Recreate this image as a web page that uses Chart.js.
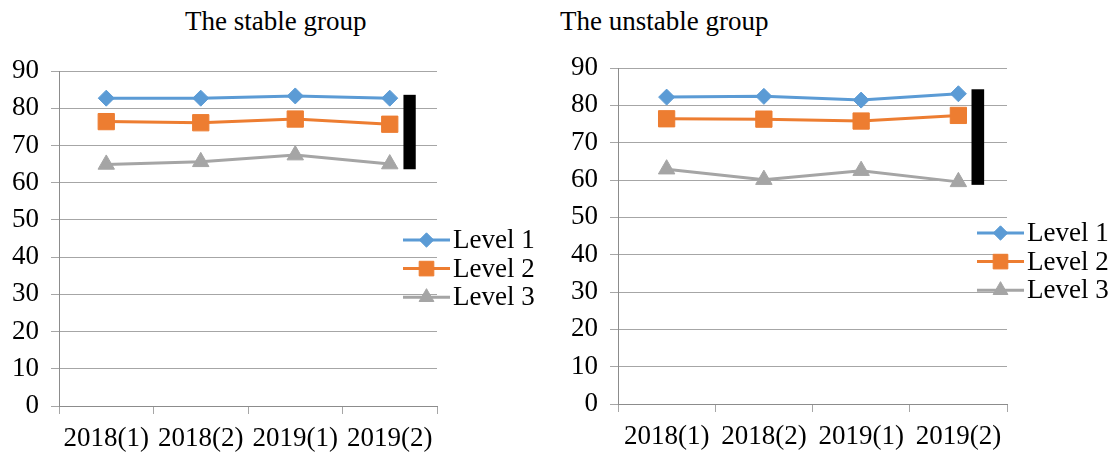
<!DOCTYPE html>
<html>
<head>
<meta charset="utf-8">
<script src="https://cdn.jsdelivr.net/npm/chart.js@4.4.0/dist/chart.umd.min.js"></script>
<style>
  body { margin: 0; background: #fff; width: 1115px; height: 452px; position: relative; overflow: hidden; font-family: "Liberation Serif", "Times New Roman", serif; }
  .title { position: absolute; top: 6px; font-size: 27px; line-height: 31px; color: #000; white-space: nowrap; }
  .box { position: absolute; top: 0; height: 452px; }
</style>
</head>
<body>
<div class="title" style="left:185px">The stable group</div>
<div class="title" style="left:560px">The unstable group</div>
<div class="box" style="left:0;width:555px"><canvas id="stable" width="555" height="452"></canvas></div>
<div class="box" style="left:555px;width:560px"><canvas id="unstable" width="560" height="452"></canvas></div>
<script>
const categories = ["2018(1)", "2018(2)", "2019(1)", "2019(2)"];
const seriesNames = ["Level 1", "Level 2", "Level 3"];

const stableLevel1 = [82.7, 82.7, 83.3, 82.7];
const stableLevel2 = [76.4, 76.1, 77.1, 75.7];
const stableLevel3 = [64.9, 65.6, 67.4, 65.0];
const stableRange = [63.6, 83.6];

const unstableLevel1 = [82.2, 82.4, 81.4, 83.1];
const unstableLevel2 = [76.4, 76.3, 75.8, 77.3];
const unstableLevel3 = [62.9, 60.1, 62.5, 59.5];
const unstableRange = [58.7, 84.3];

const yTicks = { min: 0, max: 90, step: 10 };

const family = '"Liberation Serif", "Times New Roman", serif';
const gridColor = "#a6a6a6";
const axisColor = "#8c8c8c";
const colors = ["#5b9bd5", "#ed7d31", "#a5a5a5"];
const markers = [["rectRot", 8], ["rect", 11.5], ["triangle", 9.5]];

Chart.defaults.font.family = family;
Chart.defaults.font.size = 27;
Chart.defaults.color = "#000";

// legend drawn as line + marker + label, overlapping the plot like the original
const sideLegend = {
  id: "sideLegend",
  afterDraw(chart, args, o) {
    const { ctx, chartArea } = chart;
    const x0 = chartArea.right + o.dx;
    ctx.save();
    chart.data.datasets.forEach((ds, i) => {
      const y = o.top + i * o.gap;
      ctx.strokeStyle = ds.borderColor;
      ctx.lineWidth = 3;
      ctx.beginPath(); ctx.moveTo(x0, y); ctx.lineTo(x0 + o.len, y); ctx.stroke();
      ctx.fillStyle = ds.pointBackgroundColor;
      ctx.strokeStyle = ds.borderColor;
      ctx.lineWidth = 1;
      Chart.helpers.drawPoint(ctx, { pointStyle: ds.pointStyle, radius: ds.pointRadius * 0.9, borderWidth: 1, rotation: 0 }, x0 + o.len / 2, y);
      ctx.fillStyle = "#000";
      ctx.font = `27px ${family}`;
      ctx.textBaseline = "middle";
      ctx.fillText(ds.label, x0 + o.len + 3, y + 1);
    });
    ctx.restore();
  }
};

// black vertical bar beside the last category
const rangeBar = {
  id: "rangeBar",
  afterDatasetsDraw(chart, args, o) {
    const { ctx, scales: { x, y } } = chart;
    const step = x.getPixelForValue(1) - x.getPixelForValue(0);
    const cx = x.getPixelForValue(o.index) + o.shift * step;
    const w = o.width * step;
    const top = y.getPixelForValue(o.range[1]);
    const bottom = y.getPixelForValue(o.range[0]);
    ctx.save();
    ctx.fillStyle = "#000";
    ctx.fillRect(cx - w / 2, top, w, bottom - top);
    ctx.restore();
  }
};

function datasets(values) {
  return values.map((data, i) => ({
    label: seriesNames[i],
    data,
    borderColor: colors[i],
    backgroundColor: colors[i],
    pointBackgroundColor: colors[i],
    pointBorderColor: colors[i],
    pointStyle: markers[i][0],
    pointRadius: markers[i][1],
    pointBorderWidth: 1,
    borderWidth: 3,
    tension: 0
  }));
}

function makeChart(id, values, range, lay) {
  new Chart(document.getElementById(id), {
    type: "line",
    data: { labels: categories, datasets: datasets(values) },
    plugins: [rangeBar, sideLegend],
    options: {
      responsive: false,
      animation: false,
      events: [],
      layout: { padding: { top: lay.top, right: lay.right, left: 0, bottom: 0 } },
      plugins: {
        legend: { display: false },
        tooltip: { enabled: false },
        rangeBar: { range, index: 3, shift: lay.shift, width: 0.13 },
        sideLegend: { dx: lay.dx, top: lay.legendTop, gap: 28.6, len: 47 }
      },
      scales: {
        x: {
          offset: true,
          grid: { offset: true, drawOnChartArea: false, tickLength: 8, color: gridColor },
          border: { color: axisColor },
          ticks: { padding: 9, maxRotation: 0, autoSkip: false },
          afterFit: s => { s.height = lay.xHeight; }
        },
        y: {
          min: yTicks.min, max: yTicks.max,
          ticks: { stepSize: yTicks.step, padding: 12 },
          grid: { color: gridColor, tickLength: 8 },
          border: { color: axisColor },
          afterFit: s => { s.width = lay.yWidth; }
        }
      }
    }
  });
}

makeChart("stable", [stableLevel1, stableLevel2, stableLevel3], stableRange,
  { top: 71, right: 118, yWidth: 59, xHeight: 46, shift: 0.21, dx: -34, legendTop: 240 });
makeChart("unstable", [unstableLevel1, unstableLevel2, unstableLevel3], unstableRange,
  { top: 68, right: 108, yWidth: 63, xHeight: 48, shift: 0.2, dx: -30, legendTop: 233 });
</script>
</body>
</html>
